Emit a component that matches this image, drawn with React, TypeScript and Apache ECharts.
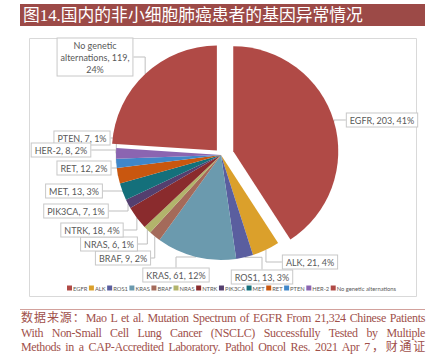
import React, { useEffect, useRef } from "react";
import * as echarts from "echarts";

const titleText = "图14.国内的非小细胞肺癌患者的基因异常情况";
const categories = [
  "EGFR", "ALK", "ROS1", "KRAS", "BRAF", "NRAS", "NTRK", "PIK3CA", "MET", "RET", "PTEN", "HER-2", "No genetic alternations",
];
const counts = [203, 21, 13, 61, 9, 6, 18, 7, 13, 12, 7, 8, 119];
const colors = [
  "#b04a46", "#dba02b", "#5a5e9f", "#6b9aae", "#a46a5a", "#b2b46b", "#8a2b2d",
  "#543f6f", "#14707b", "#c9570f", "#4087c9", "#8b65b1", "#b04a46",
];
// explode distance (px) of slices pulled out of the pie
const explodeDist: Record<string, number> = { EGFR: 12.8, "No genetic alternations": 6 };
// label box centres (layout)
const labelCenters: number[][] = [
  [382, 120], [310, 262], [262, 277], [176, 275], [123, 258], [109, 244], [92, 230],
  [76, 211], [74, 191], [84, 168], [82, 138], [61, 150], [95, 57],
];
const sourceLines = [
  "数据来源：Mao L et al. Mutation Spectrum of EGFR From 21,324 Chinese Patients",
  "With Non-Small Cell Lung Cancer (NSCLC) Successfully Tested by Multiple",
  "Methods in a CAP-Accredited Laboratory. Pathol Oncol Res. 2021 Apr 7，财通证",
];

const CX = 221, CY = 155, R = 105;

export default function App() {
  const ref = useRef<HTMLDivElement>(null);
  useEffect(() => {
    document.body.style.margin = "0";
    const chart = echarts.init(ref.current!, null, { renderer: "svg" });
    const total = counts.reduce((a, b) => a + b, 0);
    const mids: number[] = [];
    let acc = 0;
    counts.forEach((v) => {
      mids.push(((acc + v / 2) / total) * Math.PI * 2);
      acc += v;
    });
    const groups: number[][] = [
      categories.map((_, i) => i).filter((i) => !(categories[i] in explodeDist)),
      ...categories.map((_, i) => i).filter((i) => categories[i] in explodeDist).map((i) => [i]),
    ];
    const labelFmt = (p: any) => {
      const pct = Math.round((p.value / total) * 100);
      if (p.name === "No genetic alternations") return `No genetic\nalternations, ${p.value},\n${pct}%`;
      return `${p.name}, ${p.value}, ${pct}%`;
    };
    const series = groups.map((g) => {
      let cx = CX, cy = CY;
      if (g.length === 1) {
        const d = explodeDist[categories[g[0]]];
        cx += Math.sin(mids[g[0]]) * d;
        cy -= Math.cos(mids[g[0]]) * d;
      }
      return {
        type: "pie",
        center: [cx, cy],
        radius: R,
        startAngle: 90,
        clockwise: true,
        silent: true,
        avoidLabelOverlap: false,
        emphasis: { disabled: true },
        data: categories.map((n, i) => {
          const vis = g.includes(i);
          return {
            name: n,
            value: counts[i],
            itemStyle: { color: vis ? colors[i] : "rgba(0,0,0,0)", borderWidth: 0 },
            label: { show: vis },
            labelLine: { show: vis },
          };
        }),
        label: {
          position: "outside",
          formatter: labelFmt,
          color: "#595959",
          fontSize: 9,
          fontFamily: "Lato",
          lineHeight: 12,
          backgroundColor: "#fff",
          borderColor: "#c8c8c8",
          borderWidth: 1,
          padding: [1, 3, 0, 3],
          align: "center",
        },
        labelLine: { lineStyle: { color: "#bfbfbf", width: 1 } },
        labelLayout: (p: any) => {
          const c = labelCenters[p.dataIndex];
          return { x: c[0], y: c[1], align: "center", verticalAlign: "middle" };
        },
      };
    });
    chart.setOption({
      animation: false,
      graphic: [
        { type: "rect", silent: true, z: -10, shape: { x: 29.5, y: 38.5, width: 387, height: 258 }, style: { fill: "none", stroke: "#d9d9d9", lineWidth: 1 } },
        { type: "rect", silent: true, shape: { x: 20, y: 4, width: 405, height: 22 }, style: { fill: "#9c4a47" } },
        {
          type: "text", silent: true, x: 23, y: 15.5,
          style: { text: titleText, fill: "#ffffff", fontSize: 16.8, fontFamily: "'Liberation Serif','Noto Sans CJK SC'", verticalAlign: "middle", align: "left" },
        },
      ],
      legend: {
        data: categories.map((n, i) => ({ name: n, itemStyle: { color: colors[i], opacity: 1 } })),
        left: 67,
        top: 285,
        width: 380,
        padding: 0,
        icon: "rect",
        itemWidth: 5,
        itemHeight: 5,
        itemGap: 1.5,
        selectedMode: false,
        textStyle: { fontSize: 5.8, color: "#595959", fontFamily: "Lato", padding: [0, 0, 0, -4] },
      },
      series,
    });
    return () => chart.dispose();
  }, []);
  return (
    <div style={{ position: "fixed", left: 0, top: 0, width: 430, height: 354, background: "#fff", overflow: "hidden" }}>
      <div ref={ref} style={{ position: "absolute", left: 0, top: 0, width: 430, height: 300 }} />
      <div style={{ position: "absolute", left: 20, top: 309, width: 405, height: 1, background: "#d2a19c" }} />
      <div style={{ position: "absolute", left: 21, top: 311, width: 404, color: "#a0504a", fontFamily: "'Liberation Serif','Noto Sans CJK SC',serif", fontSize: 12, lineHeight: "14.5px", letterSpacing: "-0.35px" }}>
        {sourceLines.map((l, i) => (
          <div key={i} style={{ textAlign: "justify", textAlignLast: "justify", whiteSpace: "nowrap" }}>{l}</div>
        ))}
      </div>
    </div>
  );
}
